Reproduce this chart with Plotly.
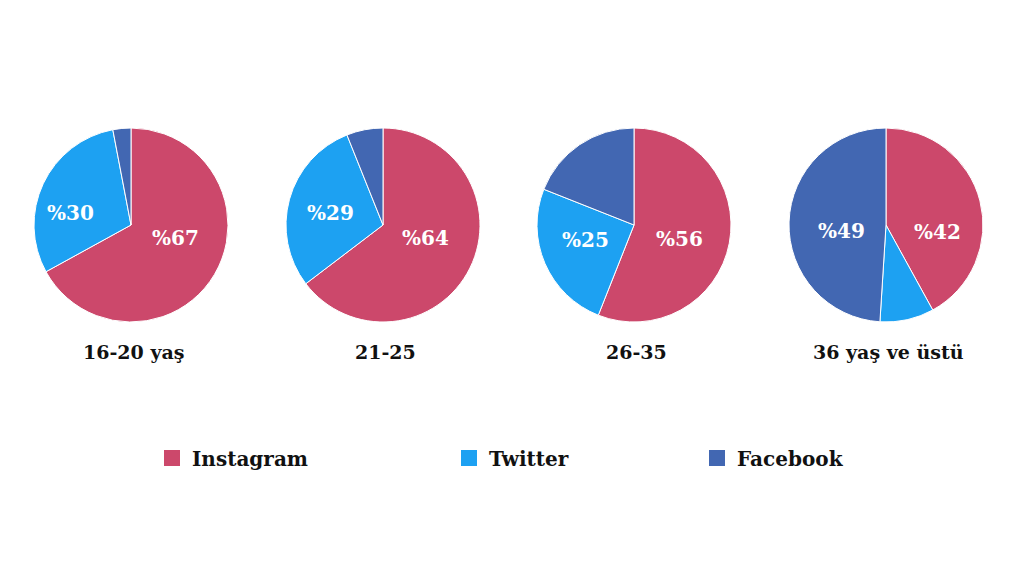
import plotly.graph_objects as go

# share of each platform per age group
groups = ["16-20 yaş", "21-25", "26-35", "36 yaş ve üstü"]
platforms = ["Instagram", "Twitter", "Facebook"]
instagram = [67, 64, 56, 42]
twitter = [30, 29, 25, 9]
facebook = [3, 6, 19, 49]
# which slices get a printed label
shown = [
    [True, True, False],
    [True, True, False],
    [True, True, False],
    [True, False, True],
]

colors = ["#CC486B", "#1DA1F2", "#4267B2"]
font_family = "DejaVu Serif"

W, H = 1024, 562
OFF = 8  # page offset of the plot div
centers = [131, 383, 634, 886]  # pixel centres of the pies
cy = 225
radius = 97
# where the percentage labels sit, px from the pie centre
label_offsets = [
    [(44, 13), (-61, -12), None],
    [(42, 13), (-53, -12), None],
    [(45, 14), (-49, 15), None],
    [(51, 7), None, (-45, 6)],
]
legend_x = [152, 449, 697]
legend_y = 458


def px(x):
    return (x - OFF) / W


def py(y):
    return 1 - (y - OFF) / H


fig = go.Figure()
for i, g in enumerate(groups):
    vals = [instagram[i], twitter[i], facebook[i]]
    cx = centers[i]
    fig.add_trace(go.Pie(
        labels=platforms,
        values=vals,
        textinfo="none",
        sort=False,
        direction="clockwise",
        rotation=0,
        marker=dict(colors=colors, line=dict(color="white", width=1)),
        domain=dict(x=[px(cx - 120), px(cx + 120)],
                    y=[py(cy + radius), py(cy - radius)]),
        showlegend=False,
        hoverinfo="label+percent",
        name=g,
    ))
    for j, v in enumerate(vals):
        if not shown[i][j]:
            continue
        dx, dy = label_offsets[i][j]
        fig.add_annotation(
            x=px(cx + dx), y=py(cy + dy), xref="paper", yref="paper",
            xanchor="center", yanchor="middle",
            text="<b>%" + str(v) + "</b>", showarrow=False,
            font=dict(family=font_family, size=20, color="white"),
        )
    fig.add_annotation(
        x=px(cx + 2), y=py(352), xref="paper", yref="paper",
        xanchor="center", yanchor="middle",
        text="<b>" + g + "</b>", showarrow=False,
        font=dict(family=font_family, size=19, color="#111111"),
    )

# legend entries, one legend each so they can be spaced like the original
legend_names = ["legend", "legend2", "legend3"]
for k, p in enumerate(platforms):
    fig.add_trace(go.Scatter(
        x=[None], y=[None], mode="markers", name=p,
        marker=dict(symbol="square", size=16, color=colors[k],
                    line=dict(color="white", width=0)),
        legend=legend_names[k], showlegend=True, hoverinfo="skip",
    ))

legend_style = dict(
    orientation="h", xanchor="left", yanchor="middle",
    font=dict(family=font_family, size=20, color="#111111", weight="bold"),
    bgcolor="rgba(0,0,0,0)",
)
fig.update_layout(
    width=W, height=H,
    margin=dict(l=0, r=0, t=0, b=0),
    paper_bgcolor="white",
    plot_bgcolor="white",
    xaxis=dict(visible=False),
    yaxis=dict(visible=False),
    legend=dict(x=px(legend_x[0]), y=py(legend_y), **legend_style),
    legend2=dict(x=px(legend_x[1]), y=py(legend_y), **legend_style),
    legend3=dict(x=px(legend_x[2]), y=py(legend_y), **legend_style),
)

fig.write_html("out.html")
